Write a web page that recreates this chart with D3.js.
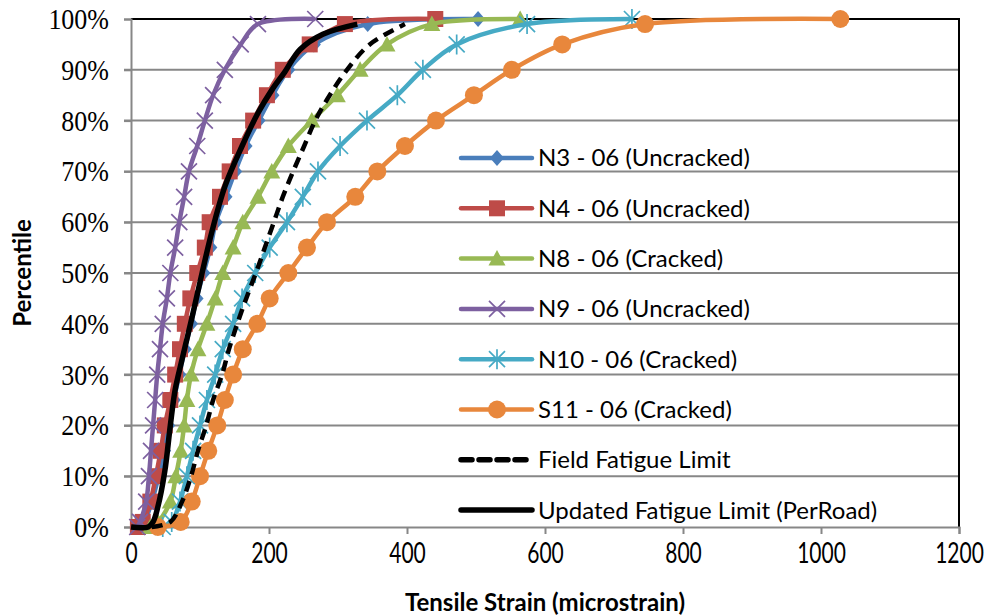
<!DOCTYPE html>
<html>
<head>
<meta charset="utf-8">
<script src="https://cdn.jsdelivr.net/npm/d3@7"></script>
<style>
  body { margin: 0; background: #fff; }
  svg { display: block; }
</style>
</head>
<body>
<div id="chart"></div>
<script>
// percentiles at which each section was sampled
const pct = [0, 1, 5, 10, 15, 20, 25, 30, 35, 40, 45, 50, 55, 60, 65, 70, 75, 80, 85, 90, 95, 99, 100];

// tensile strain (microstrain) per section
const n3  = [10, 19, 30, 40, 48, 54, 62, 70, 78, 87, 95, 105, 115, 123, 137, 151, 166, 185, 205, 228, 265, 343, 503];
const n4  = [10, 17, 28, 36, 43, 49, 57, 64, 71, 78, 86, 96, 107, 114, 129, 143, 158, 177, 197, 220, 259, 310, 441];
const n8  = [28, 39, 57, 65, 72, 77, 81, 87, 97, 110, 122, 133, 148, 162, 184, 204, 228, 262, 299, 332, 371, 436, 564];
const n9  = [9, 13, 22, 26, 29, 32, 35, 38, 42, 46, 52, 57, 64, 70, 77, 84, 96, 107, 119, 136, 159, 184, 267];
const n10 = [46, 59, 71, 81, 90, 100, 110, 122, 133, 148, 161, 180, 201, 226, 249, 271, 303, 342, 386, 423, 472, 574, 726];
const s11 = [39, 72, 88, 100, 112, 125, 136, 148, 162, 183, 201, 228, 255, 284, 325, 357, 397, 442, 497, 552, 625, 745, 1028];

// limit curves
const fieldPct    = [0, 1, 5, 10, 15, 20, 25, 30, 35, 40, 45, 50, 55, 60, 65, 70, 75, 80, 85, 90, 95, 99];
const fieldStrain = [30, 57, 74, 87, 97, 109, 119, 132, 142, 154, 167, 181, 194, 207, 220, 235, 251, 267, 288, 313, 346, 397];
const perRoadPct    = [0, 0, 1, 4, 11, 20, 27, 33, 41, 50, 58, 67, 75, 81.5, 86, 89.6, 94, 97, 99];
const perRoadStrain = [0, 25, 32, 39, 49, 57, 64, 74, 88, 103, 117, 136, 161, 184, 204, 223, 245, 278, 328];

const xTicks = [0, 200, 400, 600, 800, 1000, 1200];
const yTicks = [0, 0.1, 0.2, 0.3, 0.4, 0.5, 0.6, 0.7, 0.8, 0.9, 1];

const series = [
    {name: "N3 - 06 (Uncracked)", vals: n3, color: "#4a7ebb", marker: "diamond"},
    {name: "N4 - 06 (Uncracked)", vals: n4, color: "#be4b48", marker: "square"},
    {name: "N8 - 06 (Cracked)", vals: n8, color: "#98b954", marker: "triangle"},
    {name: "N9 - 06 (Uncracked)", vals: n9, color: "#7d60a0", marker: "x"},
    {name: "N10 - 06 (Cracked)", vals: n10, color: "#46aac5", marker: "star"},
    {name: "S11 - 06 (Cracked)", vals: s11, color: "#e8873c", marker: "circle"}
];

const width = 990, height = 616;
const svg = d3.select("#chart").append("svg")
    .attr("width", width)
    .attr("height", height);

const x = d3.scaleLinear().domain([0, 1200]).range([131, 959]);
const y = d3.scaleLinear().domain([0, 1]).range([527, 19]);

// gridlines
svg.append("g")
    .selectAll("line")
    .data(yTicks.slice(1, -1))
    .join("line")
    .attr("x1", 124).attr("x2", 959)
    .attr("y1", d => y(d)).attr("y2", d => y(d))
    .attr("stroke", "#878787")
    .attr("stroke-width", 2);

// top / right frame
svg.append("path")
    .attr("d", `M${x(0)},${y(1)}H${x(1200)}V${y(0)}`)
    .attr("fill", "none")
    .attr("stroke", "#000")
    .attr("stroke-width", 2);

const yAxis = svg.append("g")
    .attr("transform", `translate(${x(0)},0)`)
    .call(d3.axisLeft(y).tickValues(yTicks).tickFormat(d3.format(".0%")).tickSize(7).tickPadding(15));
yAxis.select(".domain").attr("stroke", "#878787").attr("stroke-width", 2);
yAxis.selectAll(".tick line").attr("stroke", "#878787").attr("stroke-width", 2);
yAxis.selectAll("text")
    .attr("fill", "#000")
    .attr("transform", "scale(1,1.15)")
    .style("font-family", "'Liberation Serif', serif")
    .style("font-size", "26px");

const xAxis = svg.append("g")
    .attr("transform", `translate(0,${y(0)})`)
    .call(d3.axisBottom(x).tickValues(xTicks).tickFormat(d3.format("d")).tickSize(7).tickPadding(5));
xAxis.select(".domain").attr("stroke", "#878787").attr("stroke-width", 2);
xAxis.selectAll(".tick line").attr("stroke", "#878787").attr("stroke-width", 2);
xAxis.selectAll("text")
    .attr("fill", "#000")
    .attr("transform", "scale(1,1.35)")
    .style("font-family", "Lato, sans-serif")
    .style("font-size", "21px");

svg.append("text")
    .attr("x", 545).attr("y", 611)
    .attr("text-anchor", "middle")
    .style("font-family", "Lato, sans-serif")
    .style("font-weight", "bold")
    .style("font-size", "24px")
    .text("Tensile Strain (microstrain)");

svg.append("text")
    .attr("transform", "translate(31,273) rotate(-90)")
    .attr("text-anchor", "middle")
    .style("font-family", "Lato, sans-serif")
    .style("font-weight", "bold")
    .style("font-size", "24px")
    .text("Percentile");

function markerPath(type) {
    switch (type) {
        case "diamond": return "M0,-8L7,0L0,8L-7,0Z";
        case "square": return "M-8,-8H8V8H-8Z";
        case "triangle": return "M0,-8.5L8.5,7H-8.5Z";
        case "circle": return "M-9,0A9,9 0 1,0 9,0A9,9 0 1,0 -9,0Z";
        case "x": return "M-8,-8L8,8M8,-8L-8,8";
        case "star": return "M-8,-8L8,8M8,-8L-8,8M0,-10V10";
    }
}
const stroked = t => t === "x" || t === "star";

const line = d3.line().curve(d3.curveCatmullRom.alpha(0.5));

series.forEach(s => {
    const pts = s.vals.map((v, i) => [x(v), y(pct[i] / 100)]);
    const g = svg.append("g");
    g.append("path")
        .attr("d", line(pts))
        .attr("fill", "none")
        .attr("stroke", s.color)
        .attr("stroke-width", 4.5);
    g.selectAll("path.m")
        .data(pts)
        .join("path")
        .attr("class", "m")
        .attr("transform", d => `translate(${d[0]},${d[1]})`)
        .attr("d", markerPath(s.marker))
        .attr("fill", stroked(s.marker) ? "none" : s.color)
        .attr("stroke", s.color)
        .attr("stroke-width", stroked(s.marker) ? 1.7 : 0);
});

svg.append("path")
    .attr("d", line(fieldStrain.map((v, i) => [x(v), y(fieldPct[i] / 100)])))
    .attr("fill", "none")
    .attr("stroke", "#000")
    .attr("stroke-width", 4.5)
    .attr("stroke-dasharray", "11,7");

svg.append("path")
    .attr("d", line(perRoadStrain.map((v, i) => [x(v), y(perRoadPct[i] / 100)])))
    .attr("fill", "none")
    .attr("stroke", "#000")
    .attr("stroke-width", 5.5);

// legend
const legendItems = series.concat([
    {name: "Field Fatigue Limit", color: "#000", dash: "11,7"},
    {name: "Updated Fatigue Limit (PerRoad)", color: "#000"}
]);
const legend = svg.append("g");
legendItems.forEach((d, i) => {
    const ly = 158 + i * 50.3;
    legend.append("line")
        .attr("x1", 461).attr("x2", 532)
        .attr("y1", ly).attr("y2", ly)
        .attr("stroke", d.color)
        .attr("stroke-width", d.marker ? 4.5 : 5.5)
        .attr("stroke-linecap", "round")
        .attr("stroke-dasharray", d.dash || null);
    if (d.marker) {
        legend.append("path")
            .attr("transform", `translate(497,${ly})`)
            .attr("d", markerPath(d.marker))
            .attr("fill", stroked(d.marker) ? "none" : d.color)
            .attr("stroke", d.color)
            .attr("stroke-width", stroked(d.marker) ? 1.7 : 0);
    }
    legend.append("text")
        .attr("x", 538).attr("y", ly)
        .attr("dy", "0.35em")
        .style("font-family", "Lato, sans-serif")
        .style("font-size", "24px")
        .text(d.name);
});
</script>
</body>
</html>
